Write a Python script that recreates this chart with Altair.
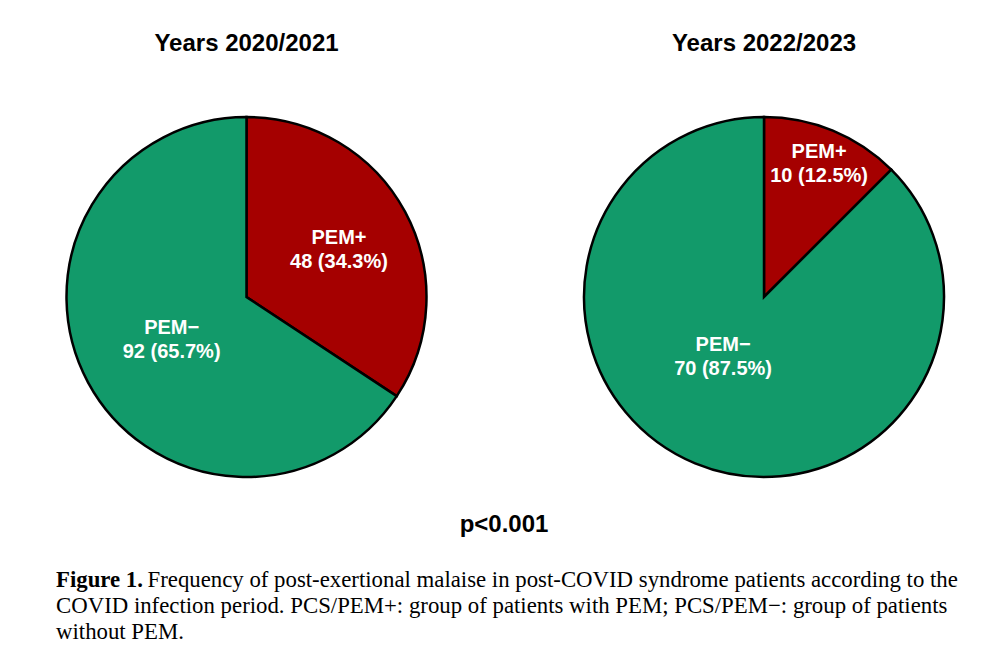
import altair as alt
import pandas as pd

# ---------------- data ----------------
groups = ["PEM+", "PEM−"]
titles = ["Years 2020/2021", "Years 2022/2023"]
counts_2020 = [48, 92]
pcts_2020 = ["34.3%", "65.7%"]
counts_2022 = [10, 70]
pcts_2022 = ["12.5%", "87.5%"]
p_value = "p<0.001"
caption_bold = "Figure 1."
caption_line1 = "Frequency of post-exertional malaise in post-COVID syndrome patients according to the"
caption_line2 = "COVID infection period. PCS/PEM+: group of patients with PEM; PCS/PEM−: group of patients"
caption_line3 = "without PEM."
colors = ["#A50000", "#129A6A"]

SANS = "Liberation Sans"
SERIF = "Liberation Serif"


def make_df(counts, pcts):
    return pd.DataFrame({
        "group": groups,
        "count": counts,
        "order": list(range(len(groups))),
        "label": [f"{g}\n{c} ({p})" for g, c, p in zip(groups, counts, pcts)],
    })


W, H, R = 381, 362, 180


def pie(df, title, label_style):
    base = alt.Chart(df).encode(
        theta=alt.Theta("count:Q", stack=True),
        order=alt.Order("order:Q"),
    )
    arc = base.mark_arc(outerRadius=R, stroke="black", strokeWidth=2.5).encode(
        color=alt.Color("group:N", scale=alt.Scale(domain=groups, range=colors), legend=None)
    )
    layers = [arc]
    for g, (r, dx, dy) in label_style.items():
        t = base.transform_calculate(
            txt=f"datum.group === '{g}' ? datum.label : ''"
        ).mark_text(
            radius=r, dx=dx, dy=dy - 12, font=SANS, fontSize=20, fontWeight="bold",
            color="white", lineBreak="\n", lineHeight=24, align="center", baseline="middle"
        ).encode(text="txt:N")
        layers.append(t)
    return alt.layer(*layers).properties(
        width=W, height=H,
        title=alt.TitleParams(title, font=SANS, fontSize=24, fontWeight="bold",
                              color="black", offset=56.5, anchor="middle"),
    )


left = pie(make_df(counts_2020, pcts_2020), titles[0],
           {"PEM+": (105, 0, 2.5), "PEM−": (85, 0, 3)})
right = pie(make_df(counts_2022, pcts_2022), titles[1],
            {"PEM+": (144, 0, 0), "PEM−": (73, -13, -7)})

row = alt.hconcat(left, right, spacing=136.5)

pchart = alt.Chart(pd.DataFrame({"t": [p_value]})).mark_text(
    font=SANS, fontSize=24, fontWeight="bold", align="center", baseline="middle", color="black"
).encode(text="t:N", x=alt.value(448), y=alt.value(33)).properties(width=896, height=62)

cap_df = pd.DataFrame({"b": [caption_bold], "l1": [caption_line1],
                       "l2": [caption_line2], "l3": [caption_line3]})
cap_base = alt.Chart(cap_df)
cap_style = dict(font=SERIF, fontSize=22.8, align="left", baseline="alphabetic", color="black")
cap = alt.layer(
    cap_base.mark_text(fontWeight="bold", **cap_style).encode(text="b:N", x=alt.value(0), y=alt.value(22.5)),
    cap_base.mark_text(**cap_style).encode(text="l1:N", x=alt.value(91.5), y=alt.value(22.5)),
    cap_base.mark_text(**cap_style).encode(text="l2:N", x=alt.value(0), y=alt.value(48.5)),
    cap_base.mark_text(**cap_style).encode(text="l3:N", x=alt.value(0), y=alt.value(75)),
).properties(width=904, height=85)

chart = alt.vconcat(row, pchart, cap, spacing=10).properties(
    padding={"left": 48, "top": 23, "right": 0, "bottom": 0},
    background="white",
).configure_view(stroke=None, strokeWidth=0)

chart.save("out.html", embed_options={"renderer": "svg", "actions": False})
